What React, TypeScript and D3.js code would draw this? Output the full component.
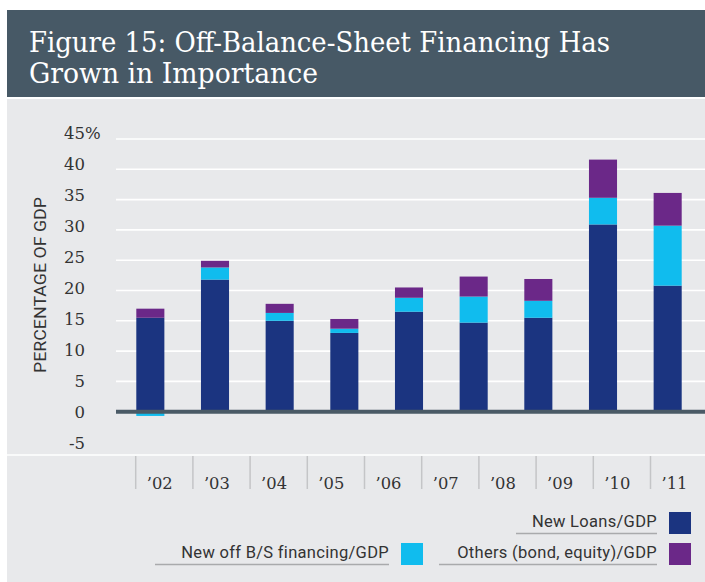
import * as d3 from 'd3';

// bars (one per year) -- the source chart draws 9 bars under 10 axis labels
const years = ['2002', '2003', '2004', '2005', '2006', '2007', '2008', '2009', '2010'];
const newLoans = [15.5, 21.8, 15.0, 13.0, 16.5, 14.7, 15.5, 30.9, 20.8];
const offBalance = [-0.7, 2.0, 1.3, 0.7, 2.3, 4.3, 2.8, 4.4, 9.9];
const others = [1.5, 1.1, 1.5, 1.6, 1.7, 3.3, 3.6, 6.3, 5.4];

const xLabels = ['’02', '’03', '’04', '’05', '’06', '’07', '’08', '’09', '’10', '’11'];
const yTicks = [-5, 0, 5, 10, 15, 20, 25, 30, 35, 40, 45];

const seriesKeys = ['loans', 'offbs', 'others'];
const seriesNames = ['New Loans/GDP', 'New off B/S financing/GDP', 'Others (bond, equity)/GDP'];
const colors = ['#1b3480', '#10bcee', '#6b2888'];

const W = 705;
const H = 582;
const serif = "'DejaVu Serif', serif";
const sans = "Roboto, 'Noto Sans', sans-serif";

export default function App() {
  const rows = years.map((y, i) => ({
    year: y,
    loans: newLoans[i],
    offbs: offBalance[i],
    others: others[i],
  }));

  const stacked = d3.stack<any>()
    .keys(seriesKeys)
    .offset(d3.stackOffsetDiverging)(rows);

  const x = d3.scaleBand()
    .domain(years)
    .range([118, 700])
    .paddingInner(0.566)
    .paddingOuter(0.283);

  const y = d3.scaleLinear().domain([-5, 45]).range([442, 139]);
  // tick text in the original sits on a slightly wider spacing than the grid
  const yText = d3.scaleLinear().domain([-5, 45]).range([443.5, 133.5]);

  const cells = d3.scaleBand().domain(xLabels).range([135.7, 707.7]);

  const color = d3.scaleOrdinal<string, string>().domain(seriesKeys).range(colors);

  const legend = [
    { key: 'loans', right: 657, base: 527, under: 516 },
    { key: 'offbs', right: 389, base: 558, under: 155 },
    { key: 'others', right: 657, base: 558, under: 439 },
  ];

  return (
    <svg width={W} height={H} style={{ position: 'absolute', left: 0, top: 0, background: '#fff' }}>
      {/* title band */}
      <rect x={7} y={10} width={W - 7} height={87} fill="#475966" />
      <text x={29} y={52} fill="#fff" fontFamily={serif} fontSize={27}
        textLength={581} lengthAdjust="spacingAndGlyphs">
        Figure 15: Off-Balance-Sheet Financing Has
      </text>
      <text x={29} y={83} fill="#fff" fontFamily={serif} fontSize={27}
        textLength={289} lengthAdjust="spacingAndGlyphs">
        Grown in Importance
      </text>

      {/* chart panel */}
      <rect x={7} y={99} width={W - 7} height={H - 99} fill="#e8e9eb" />

      {/* grid */}
      {yTicks.filter(t => t > 0).map(t => (
        <line key={t} x1={116} x2={W} y1={y(t)} y2={y(t)} stroke="#fff" strokeWidth={1.6} />
      ))}

      {/* y tick labels */}
      {yTicks.map(t => (
        <g key={t} fontFamily={serif} fontSize={16.5} fill="#333">
          <text x={85} y={yText(t)} textAnchor="end" dominantBaseline="central">{t}</text>
          {t === 45 && <text x={85} y={yText(t)} dominantBaseline="central">%</text>}
        </g>
      ))}

      <text
        transform={`translate(46,285) rotate(-90)`}
        textAnchor="middle"
        fontFamily={sans}
        fontSize={16.5}
        fill="#333"
        textLength={176}
        lengthAdjust="spacingAndGlyphs"
      >
        PERCENTAGE OF GDP
      </text>

      {/* bars */}
      {stacked.map(s => (
        <g key={s.key} fill={color(s.key)}>
          {s.map((d, i) => (
            <rect
              key={i}
              x={x(years[i])}
              y={y(Math.max(d[0], d[1]))}
              width={x.bandwidth()}
              height={Math.abs(y(d[0]) - y(d[1]))}
            />
          ))}
        </g>
      ))}

      {/* zero line */}
      <line x1={116} x2={W} y1={y(0)} y2={y(0)} stroke="#4a5a66" strokeWidth={4} />

      {/* category strip */}
      <line x1={7} x2={W} y1={455} y2={455} stroke="#fff" strokeWidth={1.5} />
      {xLabels.map(l => (
        <g key={l}>
          <line x1={cells(l)} x2={cells(l)} y1={456} y2={489} stroke="#c4c5c7" strokeWidth={1.5} />
          <text x={(cells(l) as number) + 11} y={489} fontFamily={serif} fontSize={17.5} fill="#333"
            textLength={26} lengthAdjust="spacingAndGlyphs">{l}</text>
        </g>
      ))}

      {/* legend */}
      {legend.map(item => {
        const i = seriesKeys.indexOf(item.key);
        return (
          <g key={item.key}>
            <text
              x={item.right}
              y={item.base}
              textAnchor="end"
              fontFamily={sans}
              fontSize={16.5}
              letterSpacing={0.3}
              fill="#333"
            >
              {seriesNames[i]}
            </text>
            <line x1={item.under} x2={item.right} y1={item.base + 6.5} y2={item.base + 6.5} stroke="#a9aaac" strokeWidth={1.5} />
            <rect x={item.right + 12} y={item.base - 15} width={22} height={22} fill={color(item.key)} />
          </g>
        );
      })}
    </svg>
  );
}
